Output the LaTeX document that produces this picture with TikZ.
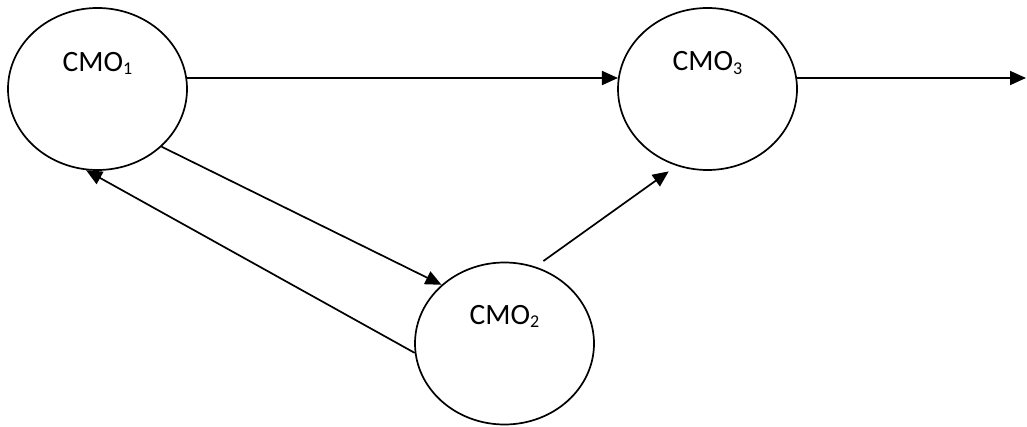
\documentclass[tikz,border=0pt]{standalone}
\usepackage{fontspec}
\setmainfont{Carlito}
\usetikzlibrary{shapes.geometric,arrows.meta}
\newcommand{\cmosub}[1]{CMO{\fontsize{18}{18}\selectfont\raisebox{-3.5pt}{#1}}}
\begin{document}
\begin{tikzpicture}[x=1pt,y=-1pt,
  cmo/.style={draw, ellipse, line width=1.7pt, minimum width=179pt, minimum height=162pt, inner sep=0pt},
  cmolabel/.style={anchor=base, inner sep=0pt, font=\fontsize{29.5}{30}\selectfont},
  conn/.style={line width=1.7pt, -{Triangle[length=16pt,width=14pt]}}]
\useasboundingbox (0,0) rectangle (1027,427);
\node[cmo] (c1) at (97.5,89) {};
\node[cmo] (c2) at (504.5,343.5) {};
\node[cmo] (c3) at (707.5,89) {};
\node[cmolabel] (t1) at (97.5,71.5) {\cmosub{1}};
\node[cmolabel] (t2) at (504.5,324) {\cmosub{2}};
\node[cmolabel] (t3) at (707.5,71) {\cmosub{3}};
\coordinate (out) at (1026,78);
\draw[conn] (c1.7) -- (c3.173);
\draw[conn] (c3.7) -- (out);
\draw[conn] (c1.-42) -- (c2.137);
\draw[conn] (c2.186) -- (c1.-98);
\draw[conn, shorten <=9.6pt, shorten >=9.5pt] (c2.68) -- (c3.248);
\end{tikzpicture}
\end{document}
